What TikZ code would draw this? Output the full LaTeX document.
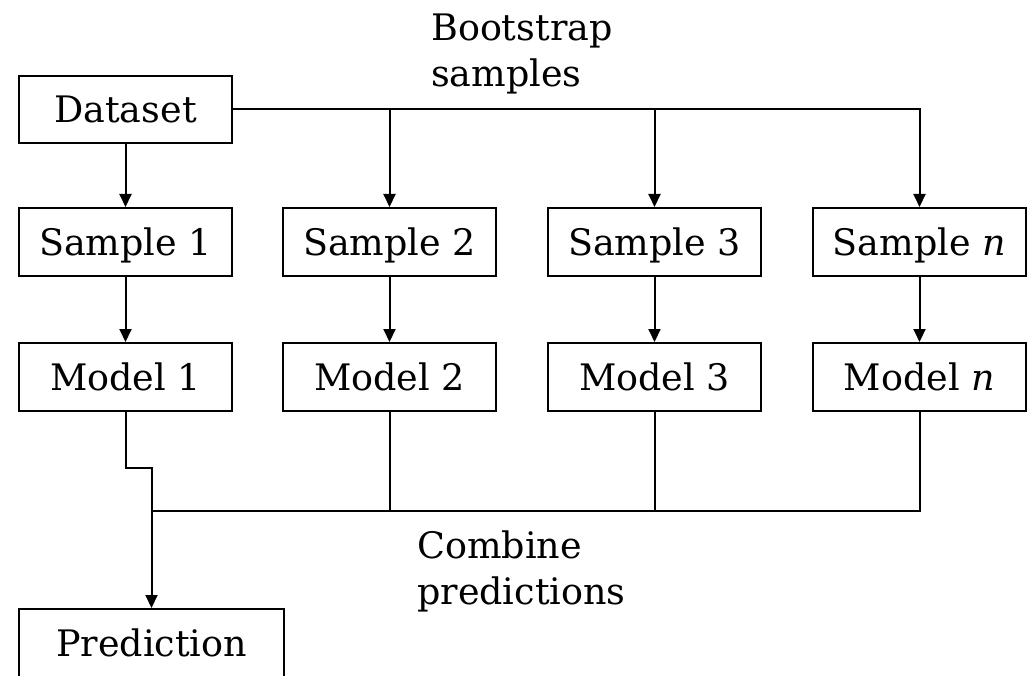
\documentclass[tikz,border=0pt]{standalone}
\usepackage{fontspec}
\setmainfont{DejaVu Serif}
\usetikzlibrary{arrows.meta}
\begin{document}
\begin{tikzpicture}[x=1pt,y=-1pt,
  box/.style={draw, line width=2pt, minimum width=213pt, minimum height=68pt, inner sep=0pt,
              text height=27pt, text depth=0pt, font=\fontsize{36.5}{46}\selectfont},
  conn/.style={line width=2pt},
  arr/.style={conn, -{Triangle[length=13pt,width=12pt]}},
  lbl/.style={align=left, anchor=base west, inner sep=0pt, font=\fontsize{36.5}{46}\selectfont}]
\useasboundingbox (0,0) rectangle (1032,676);
\fill[white] (0,0) rectangle (1032,676);

\node[box, minimum height=67pt] (d) at (125.5,109.5) {Dataset};
\node[box] (s1) at (125.5,242) {Sample 1};
\node[box] (s2) at (389.5,242) {Sample 2};
\node[box] (s3) at (654.5,242) {Sample 3};
\node[box] (sn) at (919.5,242) {Sample \textit{n}};
\node[box] (m1) at (125.5,377) {Model 1};
\node[box] (m2) at (389.5,377) {Model 2};
\node[box] (m3) at (654.5,377) {Model 3};
\node[box] (mn) at (919.5,377) {Model \textit{n}};
\node[box, minimum width=265pt] (p) at (151.5,643) {Prediction};

\node[lbl] (bs) at (431,87) {Bootstrap\\samples};
\node[lbl] (cp) at (417,604) {Combine\\predictions};

% dataset to samples
\draw[arr] (d.south) -- (s1.north);
\draw[arr] (d.east) -| (sn.north);
\draw[arr] (s2.north |- d.east) -- (s2.north);
\draw[arr] (s3.north |- d.east) -- (s3.north);

% samples to models
\draw[arr] (s1.south) -- (m1.north);
\draw[arr] (s2.south) -- (m2.north);
\draw[arr] (s3.south) -- (m3.north);
\draw[arr] (sn.south) -- (mn.north);

% models combined
\coordinate (k) at (151.5,468);
\coordinate (j) at (151.5,511);
\draw[arr] (m1.south) |- (k) -- (p.north);
\draw[conn] (j) -- (mn.south |- j) -- (mn.south);
\draw[conn] (m2.south) -- (m2.south |- j);
\draw[conn] (m3.south) -- (m3.south |- j);
\end{tikzpicture}
\end{document}
